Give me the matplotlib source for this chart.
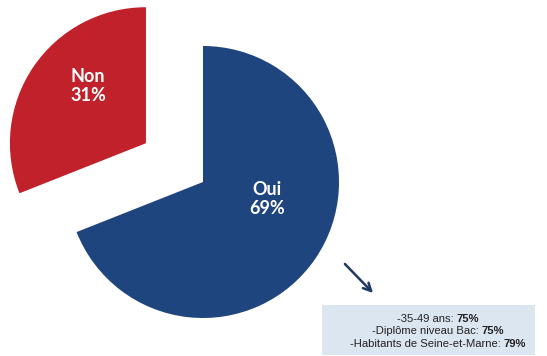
import matplotlib
matplotlib.use("Agg")
import matplotlib.pyplot as plt
from matplotlib.patches import Rectangle

# survey answers
answers = ["Oui", "Non"]
shares = [69, 31]
answer_colors = ["#1F457E", "#C1212B"]

# sub-groups where "Oui" is highest
group_names = ["-35-49 ans:", "-Diplôme niveau Bac:", "-Habitants de Seine-et-Marne:"]
group_values = [75, 75, 79]

W, H = 547, 356
fig = plt.figure(figsize=(W / 100, H / 100), dpi=100)
ax = fig.add_axes([0, 0, 1, 1])

# work in pixel-like units so the layout is easy to place
radius = 136
center = (203, H - 182)
wedges, texts, autotexts = ax.pie(
    shares,
    colors=answer_colors,
    explode=[0, 69],
    radius=radius,
    center=center,
    startangle=90,
    counterclock=False,
    autopct=lambda p: "",
    wedgeprops=dict(linewidth=0),
)

# answer labels inside the slices
label_pos = [(267, H - 199), (88, H - 86)]
for t, name, share, pos in zip(autotexts, answers, shares, label_pos):
    t.set_text(f"{name}\n{share}%")
    t.set_position(pos)
    t.set_color("white")
    t.set_fontfamily("Lato")
    t.set_fontweight("bold")
    t.set_fontsize(13)
    t.set_linespacing(1.2)
    t.set_ha("center")
    t.set_va("center")

ax.set_xlim(0, W)
ax.set_ylim(0, H)
ax.set_aspect("equal")
ax.axis("off")

# arrow pointing to the detail box
ax.annotate("", xy=(375, H - 295), xytext=(343, H - 262),
            arrowprops=dict(arrowstyle="->", color="#1F3864", lw=1.8,
                            mutation_scale=14))

# detail box
ax.add_patch(Rectangle((322, 1), 213, 50, facecolor="#DCE6F1", edgecolor="none"))

renderer = fig.canvas.get_renderer()
cx = 438
line_y = [H - 319, H - 331.5, H - 344]
gap = 2.5
for name, val, y in zip(group_names, group_values, line_y):
    t1 = ax.text(0, y, name, fontsize=8.1, family="Liberation Sans",
                 color="#222222", ha="right", va="center")
    t2 = ax.text(0, y, f"{val}%", fontsize=8.1, family="Liberation Sans",
                 fontweight="bold", color="#222222", ha="left", va="center")
    w1 = t1.get_window_extent(renderer).width
    w2 = t2.get_window_extent(renderer).width
    total = w1 + gap + w2
    x_split = cx - total / 2 + w1
    t1.set_x(x_split)
    t2.set_x(x_split + gap)

fig.savefig("out.png", dpi=100)
